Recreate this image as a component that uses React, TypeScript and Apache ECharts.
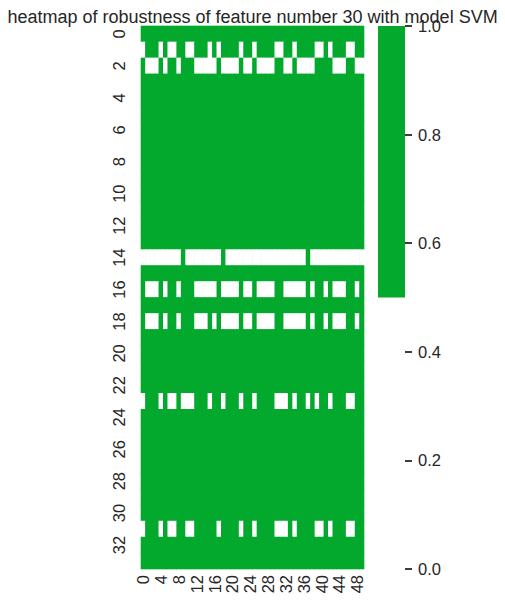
import React, { useEffect, useRef } from "react";
import * as echarts from "echarts";

const TITLE = "heatmap of robustness of feature number 30 with model SVM";
const GREEN = "#03a92d";
const TEXT = "#262626";
const FONT = "Liberation Sans, Arial, sans-serif";

// row / column categories
const rowLabels: string[] = [
  "0","1","2","3","4","5","6","7","8","9","10","11","12","13","14","15","16",
  "17","18","19","20","21","22","23","24","25","26","27","28","29","30","31","32","33",
];
const colLabels: string[] = [
  "0","1","2","3","4","5","6","7","8","9","10","11","12","13","14","15","16","17","18","19",
  "20","21","22","23","24","25","26","27","28","29","30","31","32","33","34","35","36","37","38","39",
  "40","41","42","43","44","45","46","47","48","49",
];

// columns whose value is 0 (not robust) in each row; all other cells are 1
const row1Zeros = [0, 4, 6, 7, 10, 11, 15, 17, 22, 25, 30, 31, 34, 39, 40, 42, 46, 47];
const row2Zeros = [1, 2, 3, 5, 8, 12, 13, 14, 15, 16, 18, 19, 20, 21, 23, 24, 26, 27, 28, 29, 32, 33, 35, 36, 37, 38, 43, 44, 45, 48, 49];
const row14Ones = [9, 18, 37];
const row16Zeros = [1, 2, 3, 5, 8, 12, 13, 14, 15, 16, 18, 19, 20, 21, 23, 24, 26, 27, 28, 29, 32, 33, 34, 35, 36, 38, 41, 43, 44, 45, 48];
const row18Zeros = [1, 2, 3, 5, 8, 12, 13, 14, 16, 18, 19, 20, 21, 23, 24, 26, 27, 28, 29, 32, 33, 34, 35, 36, 38, 41, 43, 44, 45, 48];
const row23Zeros = [0, 4, 6, 7, 9, 10, 11, 15, 18, 22, 25, 30, 31, 32, 34, 37, 39, 42, 46, 47];
const row31Zeros = [0, 4, 6, 7, 10, 11, 17, 22, 25, 30, 31, 32, 34, 39, 40, 42, 46, 47];

// colour bar: range 0..1, threshold of the two-colour map
const cbMin = 0;
const cbMax = 1;
const cbThreshold = 0.5;

function cellValue(r: number, c: number): number {
  if (r === 1) return row1Zeros.includes(c) ? 0 : 1;
  if (r === 2) return row2Zeros.includes(c) ? 0 : 1;
  if (r === 14) return row14Ones.includes(c) ? 1 : 0;
  if (r === 16) return row16Zeros.includes(c) ? 0 : 1;
  if (r === 18) return row18Zeros.includes(c) ? 0 : 1;
  if (r === 23) return row23Zeros.includes(c) ? 0 : 1;
  if (r === 31) return row31Zeros.includes(c) ? 0 : 1;
  return 1;
}

export default function App() {
  const ref = useRef<HTMLDivElement>(null);
  useEffect(() => {
    if (!ref.current) return;
    const chart = echarts.init(ref.current, null, { renderer: "svg" });
    const data: number[][] = [];
    rowLabels.forEach((_, r) => {
      colLabels.forEach((__, c) => {
        data.push([c, r, cellValue(r, c)]);
      });
    });
    chart.setOption({
      animation: false,
      backgroundColor: "#ffffff",
      title: {
        text: TITLE,
        left: "center",
        top: 3,
        textStyle: { fontSize: 18, fontWeight: "normal", color: TEXT, fontFamily: FONT },
      },
      grid: [
        { left: 141, top: 26, width: 223, height: 543, show: true, backgroundColor: GREEN, borderWidth: 0 },
        { left: 378, top: 26, width: 27, height: 543 },
      ],
      xAxis: [
        {
          type: "category",
          gridIndex: 0,
          data: colLabels,
          axisLine: { show: false },
          axisTick: { show: false },
          splitLine: { show: false },
          axisLabel: {
            interval: 3,
            rotate: 90,
            margin: 6,
            fontSize: 16.5,
            color: TEXT,
            fontFamily: FONT,
          },
        },
        { type: "category", gridIndex: 1, data: ["cb"], show: false },
      ],
      yAxis: [
        {
          type: "category",
          gridIndex: 0,
          data: rowLabels,
          inverse: true,
          axisLine: { show: false },
          axisTick: { show: false },
          splitLine: { show: false },
          axisLabel: {
            interval: 1,
            rotate: 90,
            margin: 14,
            fontSize: 16.5,
            color: TEXT,
            fontFamily: FONT,
          },
        },
        {
          type: "value",
          gridIndex: 1,
          min: cbMin,
          max: cbMax,
          interval: 0.2,
          position: "right",
          axisLine: { show: false },
          splitLine: { show: false },
          axisTick: { show: true, length: 7, lineStyle: { color: TEXT, width: 1.8 } },
          axisLabel: {
            margin: 13,
            fontSize: 16.5,
            color: TEXT,
            fontFamily: FONT,
            formatter: (v: number) => v.toFixed(1),
          },
        },
      ],
      series: [
        {
          type: "custom",
          xAxisIndex: 0,
          yAxisIndex: 0,
          data,
          silent: true,
          renderItem: (params: any, api: any) => {
            const c = api.value(0);
            const r = api.value(1);
            const v = api.value(2);
            const p = api.coord([c, r]);
            const s = api.size([1, 1]);
            return {
              type: "rect",
              shape: {
                x: p[0] - s[0] / 2 - 0.3,
                y: p[1] - s[1] / 2 - 0.3,
                width: s[0] + 0.6,
                height: s[1] + 0.6,
              },
              style: { fill: v >= cbThreshold ? GREEN : "#ffffff" },
            };
          },
        },
        {
          type: "bar",
          xAxisIndex: 1,
          yAxisIndex: 1,
          stack: "cb",
          barWidth: "100%",
          data: [cbThreshold - cbMin],
          itemStyle: { color: "#ffffff" },
          silent: true,
        },
        {
          type: "bar",
          xAxisIndex: 1,
          yAxisIndex: 1,
          stack: "cb",
          barWidth: "100%",
          data: [cbMax - cbThreshold],
          itemStyle: { color: GREEN },
          silent: true,
        },
      ],
    });
    return () => chart.dispose();
  }, []);
  return (
    <div
      ref={ref}
      style={{ position: "fixed", left: 0, top: 0, width: 505, height: 608, background: "#fff" }}
    />
  );
}
